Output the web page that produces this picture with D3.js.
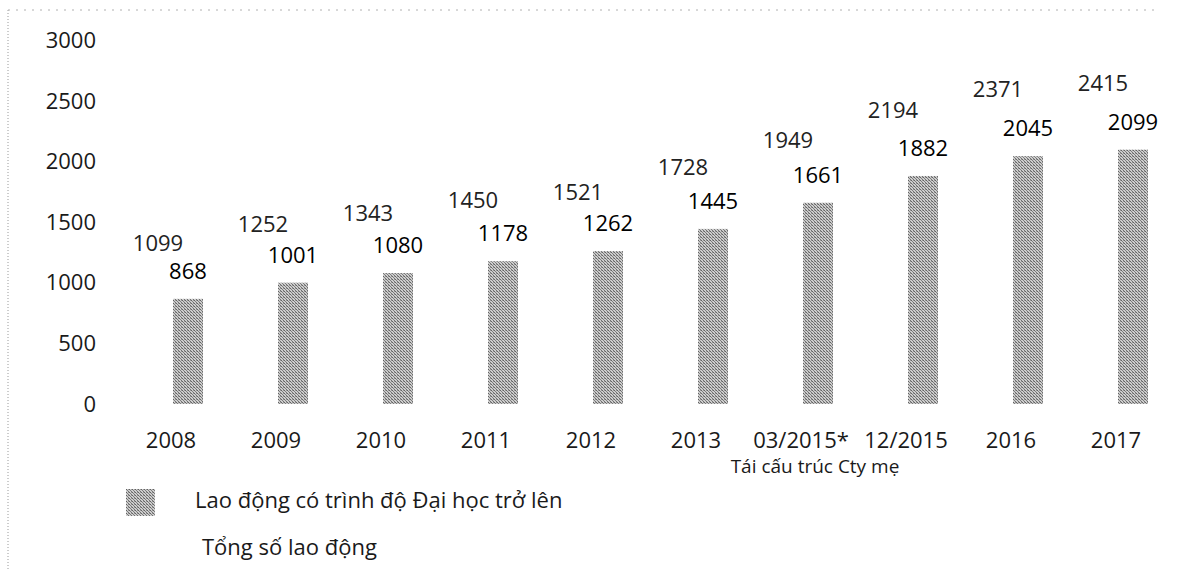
<!DOCTYPE html>
<html>
<head>
<meta charset="utf-8">
<script src="https://cdn.jsdelivr.net/npm/d3@7"></script>
<style>
    body { margin: 0; background: #fff; }
    text { font-family: "Open Sans", "Noto Sans", sans-serif; fill: #1a1a1a; }
</style>
</head>
<body>
<div id="GraphDiv"></div>
<script>
// Chart data.
const categories = ["2008", "2009", "2010", "2011", "2012", "2013", "03/2015*", "12/2015", "2016", "2017"]
const totalWorkers = [1099, 1252, 1343, 1450, 1521, 1728, 1949, 2194, 2371, 2415]
const universityWorkers = [868, 1001, 1080, 1178, 1262, 1445, 1661, 1882, 2045, 2099]
const yTickValues = [0, 500, 1000, 1500, 2000, 2500, 3000]
const seriesKeys = ["total", "university"]
const seriesNames = ["Lao động có trình độ Đại học trở lên", "Tổng số lao động"]
const subTitle = "Tái cấu trúc Cty mẹ"

// Global variables.
let width = 1180
let height = 569
let fontSize = 22

// Main svg element.
let svg = d3.select("#GraphDiv")
    .append("svg")
    .attr("width", width)
    .attr("height", height);

// Dithered grey fill like the scanned bars.
let defs = svg.append("defs");
let pattern = defs.append("pattern")
    .attr("id", "dither")
    .attr("patternUnits", "userSpaceOnUse")
    .attr("width", 3)
    .attr("height", 3);
pattern.append("rect").attr("width", 3).attr("height", 3).attr("fill", "#cdcdcd");
pattern.append("rect").attr("x", 0).attr("y", 0).attr("width", 1).attr("height", 1).attr("fill", "#626262");
pattern.append("rect").attr("x", 1).attr("y", 1).attr("width", 1).attr("height", 1).attr("fill", "#7e7e7e");
pattern.append("rect").attr("x", 2).attr("y", 2).attr("width", 1).attr("height", 1).attr("fill", "#707070");
pattern.append("rect").attr("x", 2).attr("y", 0).attr("width", 1).attr("height", 1).attr("fill", "#9a9a9a");

// Scanned frame on the left and top.
svg.append("line")
    .attr("x1", 8).attr("x2", 8).attr("y1", 10).attr("y2", height)
    .style("stroke", "#9a9a9a")
    .style("stroke-width", 1)
    .style("stroke-dasharray", "1,2");
svg.append("line")
    .attr("x1", 8).attr("x2", width - 20).attr("y1", 10).attr("y2", 10)
    .style("stroke", "#b0b0b0")
    .style("stroke-width", 1)
    .style("stroke-dasharray", "2,6");

// Define axes ranges.
let xRange = d3.scaleBand().domain(categories).range([120.5, 1170.5]).paddingInner(0.4286).paddingOuter(0.2143);
let xInner = d3.scaleBand().domain(seriesKeys).range([0, xRange.bandwidth()]);
let yRange = d3.scaleLinear().domain([0, 3000]).range([404, 40.5]);

// Create axes.
let yAxis = d3.axisLeft(yRange).tickValues(yTickValues).tickFormat(d3.format("d")).tickSize(0).tickPadding(8);
let xAxis = d3.axisBottom(xRange).tickSize(0).tickPadding(28);

let gy = svg.append("g").attr("class", "y axis").attr("transform", "translate(104,0)").call(yAxis);
let gx = svg.append("g").attr("class", "x axis").attr("transform", "translate(0," + yRange(0) + ")").call(xAxis);
[gx, gy].forEach(function(g) {
    g.select(".domain").remove();
    g.selectAll("text")
        .style("font-size", fontSize + "px")
        .style("fill", "#1a1a1a")
        .style("font-family", "'Open Sans', sans-serif");
});
gx.selectAll("text").attr("dx", "-2px");

// Build rows for each category.
let rows = categories.map(function(c, i) {
    return {category: c, total: totalWorkers[i], university: universityWorkers[i]};
});

// Plot the grouped bars (the total series has no fill).
let groups = svg.append("g")
    .selectAll("g")
    .data(rows)
    .enter()
    .append("g")
    .attr("transform", function(d) { return "translate(" + xRange(d.category) + ",0)"; });

groups.append("rect")
    .attr("x", xInner("university"))
    .attr("y", function(d) { return yRange(d.university); })
    .attr("width", xInner.bandwidth())
    .attr("height", function(d) { return yRange(0) - yRange(d.university); })
    .style("fill", "url(#dither)");

// Value labels above both series.
groups.append("text")
    .attr("x", xInner("total") + xInner.bandwidth() / 2)
    .attr("y", function(d) { return yRange(d.total) - 20; })
    .style("text-anchor", "middle")
    .style("font-size", fontSize + "px")
    .style("fill", "#222")
    .text(function(d) { return d.total; });

groups.append("text")
    .attr("x", xInner("university") + xInner.bandwidth() / 2)
    .attr("y", function(d) { return yRange(d.university) - 20; })
    .style("text-anchor", "middle")
    .style("font-size", fontSize + "px")
    .style("fill", "#000")
    .text(function(d) { return d.university; });

// Sub-title under the x axis.
svg.append("text")
    .attr("x", 815)
    .attr("y", 473)
    .style("text-anchor", "middle")
    .style("font-size", "19px")
    .text(subTitle);

// Legend.
let legend = svg.append("g").attr("transform", "translate(126,489)");
legend.append("rect")
    .attr("width", 29)
    .attr("height", 27)
    .style("fill", "url(#dither)");
legend.append("text")
    .attr("x", 69)
    .attr("y", 19)
    .style("font-size", fontSize + "px")
    .text(seriesNames[0]);
legend.append("text")
    .attr("x", 76)
    .attr("y", 66)
    .style("font-size", fontSize + "px")
    .text(seriesNames[1]);
</script>
</body>
</html>
